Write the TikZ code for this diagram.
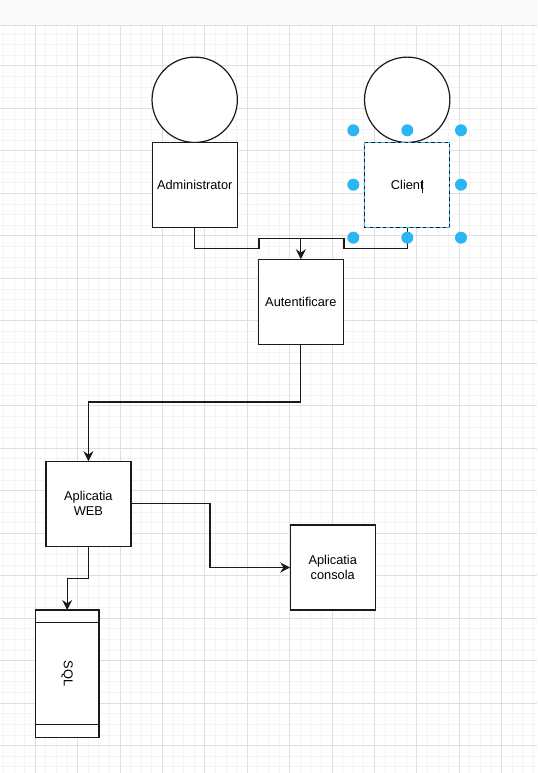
\documentclass[tikz,border=0pt]{standalone}
\usepackage{fontspec}
\setmainfont{Liberation Sans}
\usetikzlibrary{arrows.meta}
\definecolor{gridmaj}{HTML}{DFDFDF}
\definecolor{gridmin}{HTML}{F4F4F4}
\definecolor{topbar}{HTML}{FAFAFA}
\definecolor{selblue}{HTML}{29B6F2}
\definecolor{ink}{HTML}{1A1A1A}
\begin{document}
\begin{tikzpicture}[x=0.75pt,y=-0.75pt,
  box/.style={draw=ink, line width=0.9pt, fill=white, minimum width=63.75pt, minimum height=63.75pt, inner sep=0pt, outer sep=0pt, align=center, font=\fontsize{9.6}{11.25}\selectfont},
  head/.style={draw=ink, line width=0.9pt, fill=white, circle, minimum size=64pt, inner sep=0pt, outer sep=0pt},
  wire/.style={line width=0.9pt, draw=ink},
  arr/.style={wire, -{Stealth[length=7.5pt,width=7.5pt,inset=2.5pt]}},
  handle/.style={circle, fill=selblue, minimum size=9pt, inner sep=0pt},
  minline/.style={gridmin, line width=0.75pt},
  majline/.style={gridmaj, line width=0.75pt}]
% background and grid
\useasboundingbox (0,0) rectangle (537,773);
\fill[white] (0,0) rectangle (537,773);
\fill[topbar] (0,0) rectangle (537,26);
\begin{scope}
  \clip (0,26) rectangle (537,773);
  \foreach \k in {-4,...,48} { \draw[minline] ({35.3+10.6*\k},26) -- ({35.3+10.6*\k},773); }
  \foreach \k in {-4,...,67} { \draw[minline] (0,{66+10.62*\k}) -- (537,{66+10.62*\k}); }
  \foreach \k in {0,...,11} { \draw[majline] ({35.3+42.4*\k},26) -- ({35.3+42.4*\k},773); }
  \foreach \k in {0,...,16} { \draw[majline] (0,{66+42.48*\k}) -- (537,{66+42.48*\k}); }
\end{scope}
\draw[majline] (0,26) -- (537,26);

% actors
\node[head] (admhead) at (194.7,99.8) {};
\node[box] (admin) at (194.7,184.8) {Administrator};
\node[head] (clihead) at (407.2,99.8) {};
\node[box] (client) at (407.3,184.9) {Client};

% other boxes
\node[box] (auth) at (300.8,301.7) {Autentificare};
\node[box] (web) at (88.4,503.7) {Aplicatia\\WEB};
\node[box] (cons) at (332.7,567.5) {Aplicatia\\consola};
\node[box, minimum width=47.8pt, minimum height=95.5pt] (sql) at (67.2,673.7) {};
\node[rotate=-90, font=\fontsize{9.6}{11.25}\selectfont] (sqltext) at (sql.center) {SQL};
\draw[wire] ([yshift=-9.5pt]sql.north west) -- ([yshift=-9.5pt]sql.north east);
\draw[wire] ([yshift=9.5pt]sql.south west) -- ([yshift=9.5pt]sql.south east);

% connectors
\coordinate (a1) at (194.7,248.7);
\coordinate (a2) at (259,248.7);
\coordinate (a3) at (259,238.7);
\coordinate (c1) at (407.3,248.7);
\coordinate (c2) at (344,248.7);
\coordinate (c3) at (344,238.7);
\coordinate (m) at (300.8,238.7);
\draw[wire] (admin.south) -- (a1) -- (a2) -- (a3) -- (m);
\draw[wire] (client.south) -- (c1) -- (c2) -- (c3) -- (m);
\draw[arr] (m) -- (auth.north);

\coordinate (k1) at (300.8,402);
\draw[arr] (auth.south) -- (k1) -| (web.north);

\coordinate (w1) at (210,567.5);
\draw[arr] (web.east) -| (w1) -- (cons.west);

\coordinate (s1) at (88.4,578.3);
\draw[arr] (web.south) -- (s1) -| (sql.north);

% selection of Client
\draw[selblue, line width=0.9pt, dash pattern=on 2.5pt off 2.5pt] (client.north west) rectangle (client.south east);
\node[handle] (h1) at (353.3,130.3) {};
\node[handle] (h2) at (407.3,130.3) {};
\node[handle] (h3) at (461,130.3) {};
\node[handle] (h4) at (353.3,184.7) {};
\node[handle] (h5) at (461,184.7) {};
\node[handle] (h6) at (353.3,237.7) {};
\node[handle] (h7) at (407.3,237.7) {};
\node[handle] (h8) at (461,237.7) {};
\draw[ink, line width=0.6pt] (422.2,180.5) -- (422.2,193.5);
\end{tikzpicture}
\end{document}
